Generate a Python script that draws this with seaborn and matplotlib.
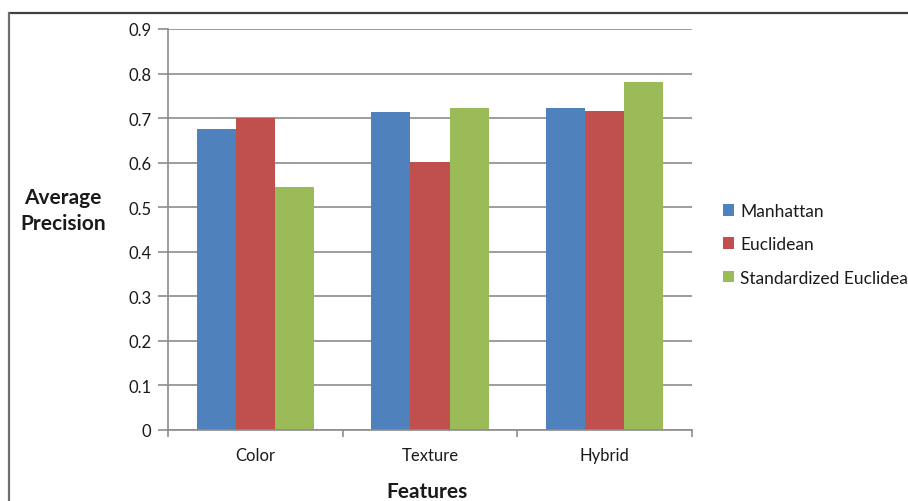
import matplotlib
matplotlib.use("Agg")
import matplotlib.pyplot as plt
from matplotlib.lines import Line2D
import seaborn as sns
import pandas as pd

categories = ["Color", "Texture", "Hybrid"]
series_names = ["Manhattan", "Euclidean", "Standardized Euclidean"]
manhattan = [0.675, 0.713, 0.722]
euclidean = [0.700, 0.602, 0.717]
std_euclidean = [0.545, 0.722, 0.782]
y_ticks = [0, 0.1, 0.2, 0.3, 0.4, 0.5, 0.6, 0.7, 0.8, 0.9]

colors = ["#4F81BD", "#C0504D", "#9BBB59"]

df = pd.DataFrame({
    "Features": categories * 3,
    "Distance": [s for s in series_names for _ in categories],
    "Value": manhattan + euclidean + std_euclidean,
})

sns.set_theme(style="white")
plt.rcParams["font.family"] = ["Lato", "DejaVu Sans"]

W, H = 908, 502
fig = plt.figure(figsize=(W / 100, H / 100), dpi=100)
ax = fig.add_axes([168 / W, (H - 431) / H, 524 / W, 401 / H])

sns.barplot(data=df, x="Features", y="Value", hue="Distance",
            palette=colors, order=categories, hue_order=series_names,
            width=0.67, saturation=1, linewidth=0, ax=ax, legend=True)

ax.set_ylim(0, 0.9)
ax.set_xlim(-0.5, 2.5)
ax.set_yticks(y_ticks)
ax.set_yticklabels(["0" if t == 0 else f"{t:.1f}" for t in y_ticks])
ax.yaxis.grid(True, color="#8C8C8C", linewidth=1.2)
ax.set_axisbelow(True)

for side in ["top", "right"]:
    ax.spines[side].set_visible(False)
for side in ["left", "bottom"]:
    ax.spines[side].set_color("#8C8C8C")
    ax.spines[side].set_linewidth(1.2)

ax.set_xticks([0, 1, 2])
ax.set_xticks([-0.5, 0.5, 1.5, 2.5], minor=True)
ax.tick_params(axis="x", which="major", length=0, pad=12,
               labelsize=12, labelcolor="#1A1A1A")
ax.tick_params(axis="x", which="minor", length=5, width=1.2,
               color="#8C8C8C", direction="out", bottom=True)
ax.tick_params(axis="y", length=7, width=1.2, color="#8C8C8C",
               direction="out", left=True, pad=5,
               labelsize=12, labelcolor="#1A1A1A")

ax.set_xlabel("")
ax.set_ylabel("")
fig.text(63 / W, 1 - 211 / H, "Average\nPrecision", ha="center", va="center",
         fontsize=15, fontweight="bold", color="#1A1A1A", linespacing=1.4)
fig.text(427 / W, 1 - 492 / H, "Features", ha="center", va="center",
         fontsize=15, fontweight="bold", color="#1A1A1A")

leg = ax.legend(loc="upper left", bbox_to_anchor=(716 / W, 1 - 197 / H),
                bbox_transform=fig.transFigure, frameon=False,
                fontsize=12.5, handlelength=0.65, handleheight=0.65,
                handletextpad=0.35, labelspacing=1.0, borderaxespad=0)
for t in leg.get_texts():
    t.set_color("#1A1A1A")

# outer chart frame (top and left edges)
fig.add_artist(Line2D([9 / W, 1.0], [1 - 13.5 / H, 1 - 13.5 / H],
                      transform=fig.transFigure, color="#404040", linewidth=1.6))
fig.add_artist(Line2D([9 / W, 9 / W], [0.0, 1 - 13.5 / H],
                      transform=fig.transFigure, color="#6E6E6E", linewidth=1.6))

fig.savefig("out.png", dpi=100)
